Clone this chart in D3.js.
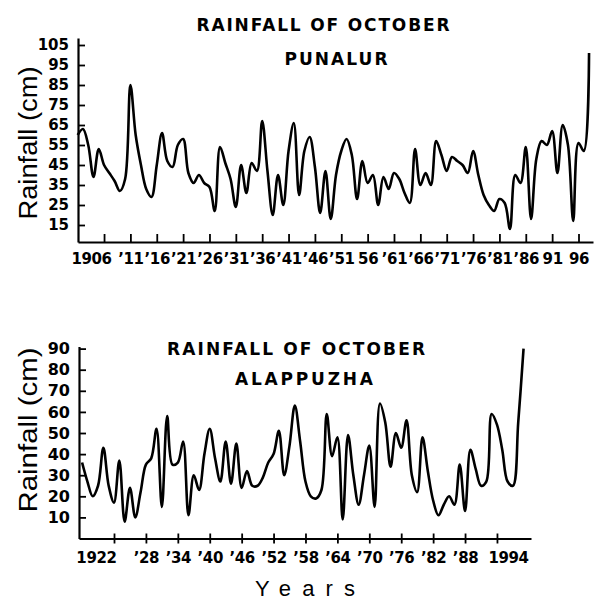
<!DOCTYPE html>
<html><head><meta charset="utf-8">
<script src="https://cdn.jsdelivr.net/npm/d3@7"></script>
<style>body{margin:0;background:#fff}svg{display:block}</style>
</head><body><svg id="c" width="597" height="601"></svg>
<script>
// ---------- data ----------
const punalurYears = d3.range(1901, 1999);
const punalurRain = [
  60,63,55,39,53,45,41,37,32,38,
  85,60,45,33,29,45,61,47,44,55,
  58,41,36,40,36,34,22,54,46,38,
  24,45,31,46,42,67,42,20,40,25,
  52,66,30,52,59,44,21,42,18,40,
  52,58,50,28,47,36,40,25,39,33,
  41,38,31,26,53,35,41,35,57,50,
  42,49,47,45,41,52,40,30,25,22,
  28,26,13,40,36,54,18,48,57,55,
  62,41,65,55,17,56,52,101
];
const punalurTickYears = [1906,1911,1916,1921,1926,1931,1936,1941,1946,1951,1956,1961,1966,1971,1976,1981,1986,1991,1996];
const punalurTickLabels = ["1906","\u201911","\u201916","\u201921","\u201926","\u201931","\u201936","\u201941","\u201946","\u201951","56","\u201961","\u201966","\u201971","\u201976","\u201981","\u201986","91","96"];
const punalurYTicks = [15,25,35,45,55,65,75,85,95,105];

const alappuzhaYears = d3.range(1916, 2000);
const alappuzhaRain = [
  36,27,20,25,43,25,17,37,8,24,
  10,22,35,38,52,15,58,35,36,46,
  11,30,23,40,52,38,27,46,26,45,
  24,32,25,25,29,36,40,51,30,44,
  63,46,27,20,19,23,59,39,48,9,
  49,30,16,30,44,15,64,55,34,50,
  43,56,30,22,48,32,18,11,16,20,
  16,35,13,42,33,25,27,59,54,42,
  27,25,55,90
];
const alappuzhaTickYears = [1922,1928,1934,1940,1946,1952,1958,1964,1970,1976,1982,1988,1994];
const alappuzhaTickLabels = ["1922","\u201928","\u201934","\u201940","\u201946","\u201952","\u201958","\u201964","\u201970","\u201976","\u201982","\u201988","1994"];
const alappuzhaYTicks = [10,20,30,40,50,60,70,80,90];

// ---------- drawing ----------
const svg = d3.select("#c");
svg.append("rect").attr("width",597).attr("height",601).attr("fill","#fff");
const labelFont = "'DejaVu Sans', sans-serif";

function panel(o) {
  const g = svg.append("g");
  // x axis
  const xa = g.append("g").attr("transform", `translate(0,${o.y.range()[0]})`)
    .call(d3.axisBottom(o.x).tickValues(o.tickYears).tickFormat((d,i)=>o.tickLabels[i])
      .tickSizeInner(o.xTickDown ? 5 : -8).tickSizeOuter(0).tickPadding(o.xPad));
  xa.select(".domain").attr("stroke","#000").attr("stroke-width",2.2);
  xa.selectAll(".tick line").attr("stroke","#000").attr("stroke-width",1.8);
  if (o.xTickDown) xa.selectAll(".tick line").attr("y1",-5);
  xa.selectAll(".tick text").attr("font-family",labelFont).attr("font-weight","bold")
    .attr("font-size",o.xFont).attr("letter-spacing",-0.4).attr("fill","#000");
  const n = o.tickLabels.length;
  xa.selectAll(".tick text").each(function(d,i){
    const t = d3.select(this);
    if (i === 0) t.attr("text-anchor","end").attr("dx", o.firstDx);
    if (i === n-1 && o.lastDx !== undefined) t.attr("text-anchor","start").attr("dx", o.lastDx);
  });
  // y axis
  const ya = g.append("g").attr("transform", `translate(${o.x.range()[0]},0)`)
    .call(d3.axisLeft(o.y).tickValues(o.yTicks).tickSizeInner(-7).tickSizeOuter(0).tickPadding(9));
  ya.select(".domain").attr("stroke","#000").attr("stroke-width",2.2);
  ya.selectAll(".tick line").attr("stroke","#000").attr("stroke-width",1.8);
  ya.selectAll(".tick text").attr("font-family",labelFont).attr("font-weight","bold")
    .attr("font-size",o.yFont).attr("fill","#000");
  // line
  const line = d3.line().x((d,i)=>o.x(o.years[i])).y(d=>o.y(d)).curve(d3.curveCatmullRom.alpha(0.5));
  g.append("path").datum(o.values).attr("d",line).attr("fill","none")
    .attr("stroke","#000").attr("stroke-width",2.6).attr("stroke-linejoin","round");
  // titles
  g.append("text").attr("x",o.t1[0]).attr("y",o.t1[1]).attr("text-anchor","middle")
    .attr("font-family",labelFont).attr("font-weight","bold").attr("font-size",17)
    .attr("textLength",o.t1[2]).attr("lengthAdjust","spacing").text("RAINFALL OF OCTOBER");
  g.append("text").attr("x",o.t2[0]).attr("y",o.t2[1]).attr("text-anchor","middle")
    .attr("font-family",labelFont).attr("font-weight","bold").attr("font-size",17)
    .attr("textLength",o.t2[2]).attr("lengthAdjust","spacing").text(o.place);
  g.append("text").attr("transform",`translate(${o.yt[0]},${o.yt[1]}) rotate(-90)`)
    .attr("text-anchor","middle").attr("font-family","'Liberation Sans', Arial, sans-serif")
    .attr("font-size",25).attr("textLength",o.yt[2]).attr("lengthAdjust","spacingAndGlyphs")
    .text("Rainfall (cm)");
}

panel({
  years: punalurYears, values: punalurRain,
  x: d3.scaleLinear().domain([1901.06, 1998.75]).range([78, 593]),
  y: d3.scaleLinear().domain([6.5, 108.5]).range([242, 38]),
  tickYears: punalurTickYears, tickLabels: punalurTickLabels, yTicks: punalurYTicks,
  xTickDown: false, xPad: 11, xFont: 15, yFont: 15, firstDx: 7,
  t1: [323, 31, 253], t2: [336, 65, 103], place: "PUNALUR", yt: [37, 143, 153]
});
panel({
  years: alappuzhaYears, values: alappuzhaRain,
  x: d3.scaleLinear().domain([1915.42, 2000.4]).range([79, 531]),
  y: d3.scaleLinear().domain([0, 91]).range([538.5, 346.5]),
  tickYears: alappuzhaTickYears, tickLabels: alappuzhaTickLabels, yTicks: alappuzhaYTicks,
  xTickDown: true, xPad: 9, xFont: 15, yFont: 16, firstDx: 2, lastDx: -9,
  t1: [296, 355, 258], t2: [304, 385, 138], place: "ALAPPUZHA", yt: [37, 430, 165]
});

svg.append("text").attr("x",305).attr("y",596).attr("text-anchor","middle")
  .attr("font-family","'Liberation Sans', Arial, sans-serif").attr("font-size",22)
  .attr("textLength",100).attr("lengthAdjust","spacing").text("Years");
</script>
</body></html>
